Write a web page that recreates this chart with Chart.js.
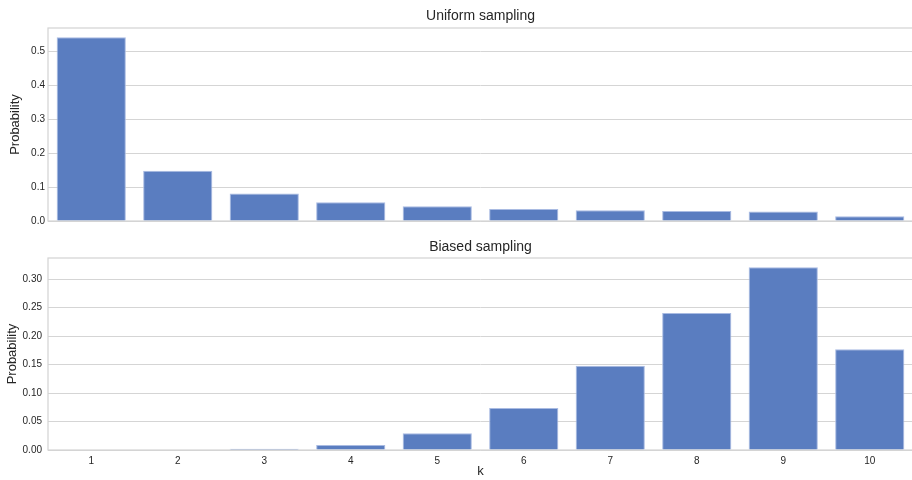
<!DOCTYPE html>
<html>
<head>
<meta charset="utf-8">
<script src="https://cdn.jsdelivr.net/npm/chart.js@4/dist/chart.umd.min.js"></script>
<style>
  html, body { margin: 0; padding: 0; background: #fff; width: 912px; height: 480px; overflow: hidden; }
  .panel { position: absolute; left: 0; }
  #topWrap { top: 0; }
  #botWrap { top: 230px; }
</style>
</head>
<body>
<div class="panel" id="topWrap"><canvas id="uniform" width="914" height="230"></canvas></div>
<div class="panel" id="botWrap"><canvas id="biased" width="914" height="250"></canvas></div>
<script>
// Possible values of k
const kValues = ['1', '2', '3', '4', '5', '6', '7', '8', '9', '10'];

// Probability of each k under uniform sampling
const uniformProb = [0.541, 0.148, 0.081, 0.055, 0.0434, 0.0355, 0.0316, 0.0296, 0.0276, 0.0138];

// Probability of each k under biased sampling
const biasedProb = [0.0, 0.0, 0.0023, 0.0088, 0.0293, 0.0738, 0.148, 0.2408, 0.321, 0.177];

// Y tick values for each panel
const uniformTicks = [0, 0.1, 0.2, 0.3, 0.4, 0.5];
const biasedTicks = [0, 0.05, 0.10, 0.15, 0.20, 0.25, 0.30];

const FONT = "'Liberation Sans', Arial, 'Helvetica', sans-serif";
const TEXT = '#262626';
const GRID = '#d5d5d5';
const BAR = '#5a7dc0';

// Frame around the plot area plus a centred panel title
const framePlugin = {
  id: 'frameAndTitle',
  beforeDatasetsDraw(chart) {
    const { ctx, chartArea: a } = chart;
    ctx.save();
    ctx.strokeStyle = GRID;
    ctx.lineWidth = 1.25;
    ctx.strokeRect(a.left, a.top, a.right - a.left, a.bottom - a.top);
    ctx.restore();
  },
  afterDraw(chart) {
    const o = chart.options.plugins.frameAndTitle;
    if (!o || !o.text) return;
    const { ctx, chartArea: a } = chart;
    ctx.save();
    ctx.fillStyle = TEXT;
    ctx.font = '14px ' + FONT;
    ctx.textAlign = 'center';
    ctx.textBaseline = 'alphabetic';
    ctx.fillText(o.text, (a.left + a.right) / 2, a.top - o.gap);
    ctx.restore();
  }
};

function makeChart(id, values, ticks, yMax, opts) {
  return new Chart(document.getElementById(id), {
    type: 'bar',
    data: {
      labels: kValues,
      datasets: [{
        data: values,
        backgroundColor: BAR,
        borderColor: '#a9bbe2',
        borderWidth: 1,
        borderSkipped: 'start',
        categoryPercentage: 1.0,
        barPercentage: 0.8
      }]
    },
    options: {
      responsive: false,
      animation: false,
      devicePixelRatio: 1,
      layout: { padding: { top: 28, right: 1, bottom: 0, left: 0 } },
      plugins: {
        legend: { display: false },
        tooltip: { enabled: false },
        frameAndTitle: { text: opts.title, gap: opts.titleGap }
      },
      scales: {
        x: {
          grid: { display: false, drawTicks: false, tickLength: 0 },
          border: { display: false },
          ticks: {
            display: opts.showX,
            color: TEXT,
            font: { family: FONT, size: 10 },
            padding: 5,
            maxRotation: 0
          },
          title: {
            display: opts.showX,
            text: 'k',
            color: TEXT,
            font: { family: FONT, size: 13 },
            padding: { top: 0, bottom: 1 }
          },
          afterFit(scale) { scale.height = opts.xHeight; }
        },
        y: {
          min: 0,
          max: yMax,
          grid: { color: GRID, lineWidth: 1, drawTicks: false },
          border: { display: false },
          ticks: {
            color: TEXT,
            font: { family: FONT, size: 10 },
            padding: opts.yPad,
            callback: (v) => v.toFixed(opts.decimals)
          },
          title: {
            display: true,
            text: 'Probability',
            color: TEXT,
            font: { family: FONT, size: 13 },
            padding: { top: opts.yTitlePad, bottom: 0 }
          },
          afterBuildTicks(scale) { scale.ticks = ticks.map(v => ({ value: v })); },
          afterFit(scale) { scale.width = 48; }
        }
      }
    },
    plugins: [framePlugin]
  });
}

makeChart('uniform', uniformProb, uniformTicks, 0.568, {
  title: 'Uniform sampling', titleGap: 8, showX: false, xHeight: 0,
  decimals: 1, yPad: 3, yTitlePad: 8
});

makeChart('biased', biasedProb, biasedTicks, 0.3374, {
  title: 'Biased sampling', titleGap: 7, showX: true, xHeight: 30,
  decimals: 2, yPad: 6, yTitlePad: 5
});
</script>
</body>
</html>
